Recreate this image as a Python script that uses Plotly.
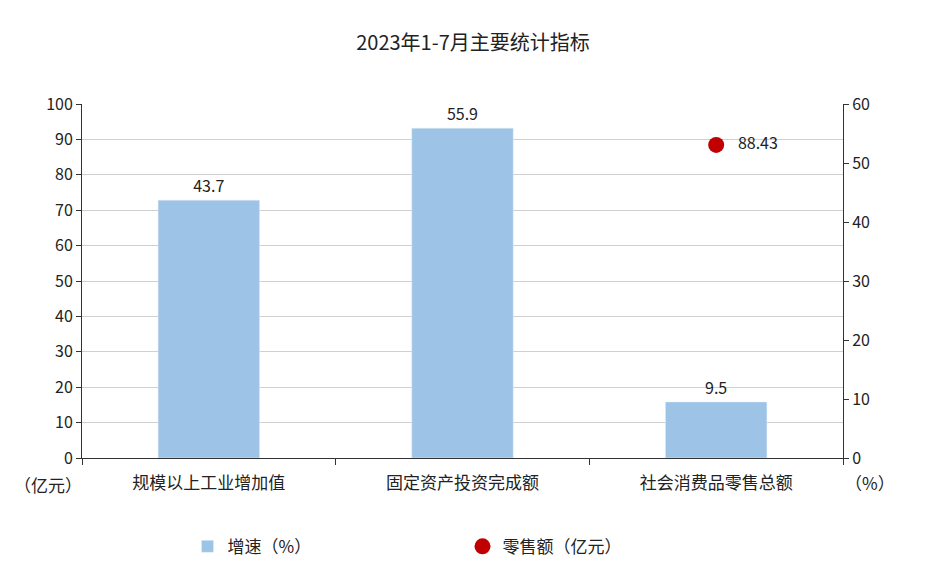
import plotly.graph_objects as go

categories = ["规模以上工业增加值", "固定资产投资完成额", "社会消费品零售总额"]
growth = [43.7, 55.9, 9.5]
retail_cat = ["社会消费品零售总额"]
retail = [88.43]

F = "Noto Sans CJK SC"
fig = go.Figure()
fig.add_trace(go.Bar(x=categories, y=growth, name="增速（%）", yaxis="y2", width=0.4,
                     marker_color="#9dc3e6", text=[str(v) for v in growth],
                     textposition="outside", textfont=dict(size=16, color="#222"),
                     cliponaxis=False))
fig.add_trace(go.Scatter(x=retail_cat, y=retail, name="零售额（亿元）", mode="markers+text",
                         marker=dict(color="#c00000", size=16), text=["   88.43"],
                         textposition="middle right", textfont=dict(size=16, color="#222")))
fig.update_layout(
    width=930, height=569, plot_bgcolor="white", paper_bgcolor="white",
    font=dict(family=F, size=16, color="#222"),
    title=dict(text="2023年1-7月主要统计指标", x=0.5, y=0.95, xanchor="center", font=dict(size=20)),
    margin=dict(l=74, r=95, t=96, b=112),
    bargap=0.6,
    xaxis=dict(showline=True, linecolor="#333", ticks="outside", tickson="boundaries",
               ticklen=6, tickcolor="#333", tickfont=dict(size=17), ticklabelstandoff=10),
    yaxis=dict(range=[0, 100], dtick=10, showline=True, linecolor="#333", ticks="outside",
               ticklen=5, tickcolor="#333", gridcolor="#d0d0d0", zeroline=False),
    yaxis2=dict(range=[0, 60], dtick=10, overlaying="y", side="right", showline=True,
                linecolor="#333", ticks="outside", ticklen=5, tickcolor="#333",
                showgrid=False, zeroline=False),
    legend=dict(orientation="h", x=0.5, xanchor="center", y=-0.2, yanchor="top",
                font=dict(size=17), entrywidth=230, entrywidthmode="pixels"),
    showlegend=True,
    annotations=[
        dict(text="（亿元）", xref="paper", yref="paper", x=-0.045, y=-0.115, showarrow=False,
             font=dict(size=17), xanchor="center"),
        dict(text="（%）", xref="paper", yref="paper", x=1.035, y=-0.11, showarrow=False,
             font=dict(size=17), xanchor="center"),
    ],
)
fig.write_html("out.html")
